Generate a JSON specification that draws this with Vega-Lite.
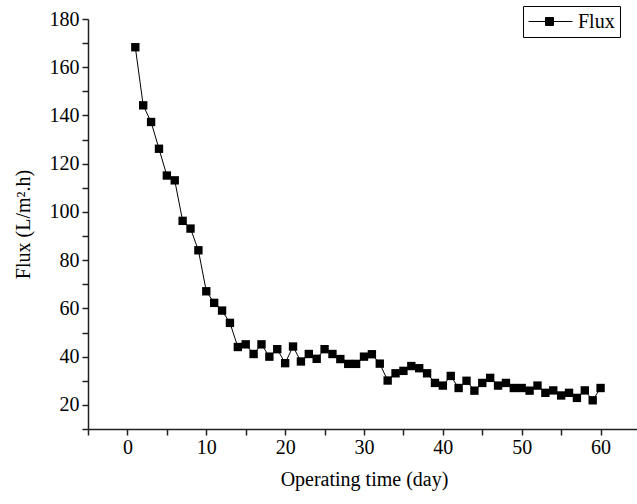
{
  "$schema": "https://vega.github.io/schema/vega-lite/v6.json",
  "width": 552,
  "height": 410,
  "autosize": {"type": "none"},
  "padding": {"left": 88, "top": 19, "right": 0, "bottom": 75},
  "background": "white",
  "config": {
    "font": "Liberation Serif",
    "view": {"stroke": null},
    "axis": {
      "domainColor": "#222",
      "domainWidth": 1.5,
      "tickColor": "#222",
      "tickWidth": 1.5,
      "grid": false,
      "labelFont": "Liberation Serif",
      "labelFontSize": 20,
      "labelColor": "black",
      "titleFont": "Liberation Serif",
      "titleFontSize": 20,
      "titleFontWeight": "normal",
      "titleColor": "black"
    },
    "legend": {"labelFont": "Liberation Serif"}
  },
  "data": {
    "values": [
      {"day": 1, "flux": 168.3}, {"day": 2, "flux": 144.2}, {"day": 3, "flux": 137.3},
      {"day": 4, "flux": 126.2}, {"day": 5, "flux": 115.1}, {"day": 6, "flux": 113.1},
      {"day": 7, "flux": 96.3}, {"day": 8, "flux": 93.1}, {"day": 9, "flux": 84.1},
      {"day": 10, "flux": 67.1}, {"day": 11, "flux": 62.3}, {"day": 12, "flux": 59.1},
      {"day": 13, "flux": 54.0}, {"day": 14, "flux": 44.0}, {"day": 15, "flux": 45.1},
      {"day": 16, "flux": 41.1}, {"day": 17, "flux": 45.1}, {"day": 18, "flux": 40.0},
      {"day": 19, "flux": 43.1}, {"day": 20, "flux": 37.3}, {"day": 21, "flux": 44.2},
      {"day": 22, "flux": 38.0}, {"day": 23, "flux": 41.1}, {"day": 24, "flux": 39.1},
      {"day": 25, "flux": 43.1}, {"day": 26, "flux": 41.1}, {"day": 27, "flux": 39.0},
      {"day": 28, "flux": 37.0}, {"day": 29, "flux": 37.0}, {"day": 30, "flux": 40.0},
      {"day": 31, "flux": 41.0}, {"day": 32, "flux": 37.1}, {"day": 33, "flux": 30.1},
      {"day": 34, "flux": 33.1}, {"day": 35, "flux": 34.1}, {"day": 36, "flux": 36.1},
      {"day": 37, "flux": 35.2}, {"day": 38, "flux": 33.1}, {"day": 39, "flux": 29.1},
      {"day": 40, "flux": 28.0}, {"day": 41, "flux": 32.0}, {"day": 42, "flux": 27.0},
      {"day": 43, "flux": 30.0}, {"day": 44, "flux": 25.9}, {"day": 45, "flux": 29.1},
      {"day": 46, "flux": 31.2}, {"day": 47, "flux": 28.0}, {"day": 48, "flux": 29.1},
      {"day": 49, "flux": 27.0}, {"day": 50, "flux": 27.0}, {"day": 51, "flux": 25.9},
      {"day": 52, "flux": 28.0}, {"day": 53, "flux": 25.0}, {"day": 54, "flux": 26.0},
      {"day": 55, "flux": 23.9}, {"day": 56, "flux": 25.0}, {"day": 57, "flux": 22.9},
      {"day": 58, "flux": 26.0}, {"day": 59, "flux": 21.9}, {"day": 60, "flux": 27.0}
    ]
  },
  "encoding": {
    "x": {
      "field": "day",
      "type": "quantitative",
      "scale": {"domain": [-5, 65], "nice": false, "zero": false},
      "axis": {
        "title": "Operating time (day)",
        "values": [-5, 0, 5, 10, 15, 20, 25, 30, 35, 40, 45, 50, 55, 60, 65],
        "labelExpr": "datum.value % 10 === 0 ? datum.label : ''",
        "labelFont": "Liberation Serif",
        "tickSize": 6,
        "labelPadding": 2,
        "titlePadding": 12,
        "encode": {
          "ticks": {"update": {"y2": {"signal": "datum.value % 10 === 0 ? 6 : 3.5"}}}
        }
      }
    },
    "y": {
      "field": "flux",
      "type": "quantitative",
      "scale": {"domain": [10, 180], "nice": false, "zero": false},
      "axis": {
        "title": "Flux (L/m².h)",
        "values": [10, 20, 30, 40, 50, 60, 70, 80, 90, 100, 110, 120, 130, 140, 150, 160, 170, 180],
        "labelExpr": "datum.value % 20 === 0 ? datum.label : ''",
        "labelFont": "Liberation Serif",
        "tickSize": 6,
        "labelPadding": 3,
        "titlePadding": 16,
        "encode": {
          "ticks": {"update": {"x2": {"signal": "datum.value % 20 === 0 ? -6 : -3.5"}}}
        }
      }
    },
    "color": {
      "datum": "Flux",
      "type": "nominal",
      "scale": {"range": ["black"]},
      "legend": {
        "title": null,
        "orient": "none",
        "legendX": 435,
        "legendY": -13,
        "strokeColor": "black",
        "fillColor": "white",
        "padding": 5,
        "symbolType": "M-1,0L3.4,0M0.7,-0.4L1.5,-0.4L1.5,0.4L0.7,0.4Z",
        "symbolSize": 400,
        "symbolStrokeWidth": 1,
        "symbolFillColor": "black",
        "symbolStrokeColor": "black",
        "labelFont": "Liberation Serif",
        "labelFontSize": 20,
        "labelColor": "black",
        "labelOffset": 29,
        "labelExpr": "datum.label + '\u00a0\u00a0\u00a0'"
      }
    }
  },
  "layer": [
    {"mark": {"type": "line", "strokeWidth": 1, "color": "black"}},
    {"mark": {"type": "point", "shape": "square", "filled": true, "size": 70, "opacity": 1, "color": "black"}}
  ]
}
